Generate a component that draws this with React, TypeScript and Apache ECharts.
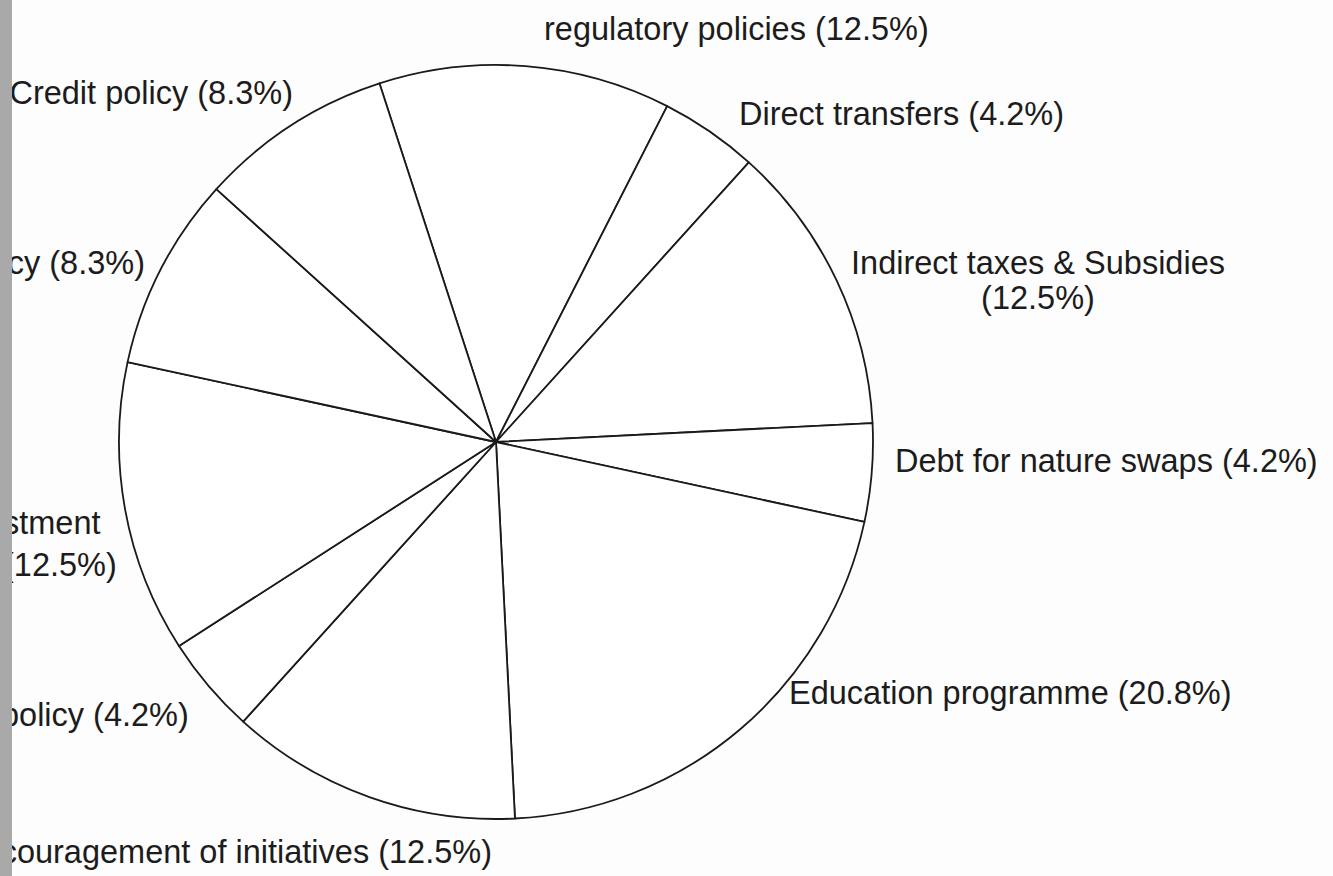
import React, { useEffect, useRef } from "react";
import * as echarts from "echarts";

// Slices, clockwise from the top-left boundary (names as visible in the scan)
const sliceNames = [
  "regulatory policies",
  "Direct transfers",
  "Indirect taxes & Subsidies",
  "Debt for nature swaps",
  "Education programme",
  "couragement of initiatives",
  "policy",
  "stment",
  "cy",
  "Credit policy",
];
const sliceValues = [12.5, 4.2, 12.5, 4.2, 20.8, 12.5, 4.2, 12.5, 8.3, 8.3];
const wrappedNames = ["Indirect taxes & Subsidies", "stment"];

// label anchor layout (pixels): x, y, align, lineHeight
const labelLayouts: [number, number, string, number][] = [
  [544, 29, "left", 40],
  [739, 114, "left", 40],
  [1038, 280, "center", 35],
  [895, 461, "left", 40],
  [789, 693, "left", 40],
  [492, 852, "right", 40],
  [1, 715, "left", 40],
  [3, 544, "left", 42],
  [145, 263, "right", 40],
  [293, 93, "right", 40],
];

export default function App() {
  const ref = useRef<HTMLDivElement>(null);
  useEffect(() => {
    if (!ref.current) return;
    const chart = echarts.init(ref.current, undefined, { renderer: "svg" });
    chart.setOption({
      animation: false,
      backgroundColor: "#fdfdfd",
      series: [
        {
          type: "pie",
          center: [496, 442],
          radius: 377,
          startAngle: 108,
          clockwise: true,
          silent: true,
          emphasis: { disabled: true },
          avoidLabelOverlap: false,
          itemStyle: { color: "#ffffff", borderColor: "#1a1a1a", borderWidth: 1.8 },
          label: {
            show: true,
            position: "inner",
            overflow: "none",
            color: "#1c1c1c",
            fontFamily: "Liberation Sans, Arial, sans-serif",
            fontSize: 32.5,
            formatter: (p: any) =>
              p.name + (wrappedNames.includes(p.name) ? "\n" : " ") + "(" + p.value + "%)",
          },
          labelLine: { show: false },
          labelLayout: (params: any) => {
            const l = labelLayouts[params.dataIndex];
            return { x: l[0], y: l[1], align: l[2], verticalAlign: "middle" };
          },
          data: sliceNames.map((n, i) => ({
            name: n,
            value: sliceValues[i],
            label: { lineHeight: labelLayouts[i][3], align: labelLayouts[i][2] },
          })),
        },
      ],
      graphic: [
        {
          type: "rect",
          z: 100,
          shape: { x: 0, y: 0, width: 12, height: 876 },
          style: { fill: "#a9a9a9" },
        },
      ],
    });
    return () => chart.dispose();
  }, []);
  return (
    <div
      ref={ref}
      style={{ position: "fixed", left: 0, top: 0, width: 1333, height: 876 }}
    />
  );
}
